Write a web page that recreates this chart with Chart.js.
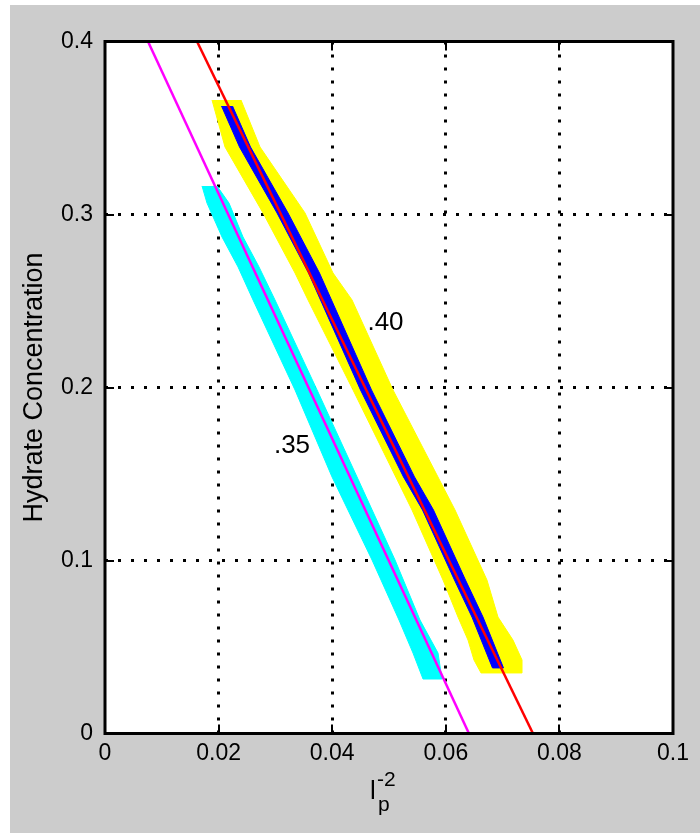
<!DOCTYPE html>
<html>
<head>
<meta charset="utf-8">
<script src="https://cdn.jsdelivr.net/npm/chart.js@4.4.1/dist/chart.umd.min.js"></script>
<style>
  body { margin: 0; background: #fff; }
  #wrap { position: absolute; left: 10px; top: 5px; width: 690px; height: 828px; background: #cccccc; }
</style>
</head>
<body>
<div id="wrap"><canvas id="chart" width="690" height="828"></canvas></div>
<script>
// axis ticks
const xTicks = ['0', '0.02', '0.04', '0.06', '0.08', '0.1'];
const yTicks = ['0', '0.1', '0.2', '0.3', '0.4'];

// fitted lines (x at y = 0.4 and at y = 0)
const lineY = [0.4, 0];
const redX = [0.0162, 0.07535];
const magentaX = [0.00757, 0.06408];

// .40 data: yellow envelope
const yellowY = [0.3662, 0.3390, 0.3009, 0.2662, 0.2506, 0.1986, 0.1292, 0.0887, 0.0673, 0.0540, 0.0425, 0.0350];
const yellowLo = [0.01884, 0.02113, 0.02782, 0.03345, 0.03574, 0.04366, 0.05405, 0.05951, 0.06215, 0.06391, 0.06496, 0.06620];
const yellowHi = [0.02394, 0.02729, 0.03521, 0.04014, 0.04349, 0.05070, 0.06162, 0.06725, 0.06919, 0.07183, 0.07342, 0.07342];

// .40 data: blue core
const blueY = [0.3627, 0.3390, 0.3009, 0.2662, 0.1986, 0.1483, 0.1292, 0.0887, 0.0673, 0.0379];
const blueLo = [0.02051, 0.02368, 0.03028, 0.03583, 0.04498, 0.05255, 0.05590, 0.06153, 0.06461, 0.06822];
const blueHi = [0.02245, 0.02562, 0.03222, 0.03776, 0.04692, 0.05449, 0.05783, 0.06347, 0.06655, 0.07016];

// .35 data: cyan band
const cyanY = [0.3165, 0.3066, 0.2870, 0.2697, 0.2506, 0.1986, 0.1483, 0.1003, 0.0656, 0.0465, 0.0315];
const cyanLo = [0.01708, 0.01796, 0.02060, 0.02342, 0.02606, 0.03345, 0.03997, 0.04701, 0.05176, 0.05423, 0.05599];
const cyanHi = [0.01972, 0.02183, 0.02430, 0.02711, 0.02993, 0.03733, 0.04437, 0.05106, 0.05546, 0.05863, 0.05933];

// curve labels
const curveLabels = ['.40', '.35'];
const curveLabelX = [0.04938, 0.03292];
const curveLabelY = [0.2373, 0.1662];

const fontFamily = '"Liberation Sans", Arial, Helvetica, sans-serif';
Chart.defaults.font.family = fontFamily;
Chart.defaults.color = '#000';

// closed outline: down the left edge, back up the right edge
function band(ys, lo, hi) {
    const pts = [];
    for (let i = 0; i < ys.length; i++) pts.push({x: lo[i], y: ys[i]});
    for (let i = ys.length - 1; i >= 0; i--) pts.push({x: hi[i], y: ys[i]});
    return pts;
}

function line(xs, ys) {
    return xs.map((v, i) => ({x: v, y: ys[i]}));
}

function bandSet(pts, color) {
    return {
        data: pts,
        fill: 'shape',
        backgroundColor: color,
        borderColor: color,
        borderWidth: 1,
        pointRadius: 0,
        tension: 0
    };
}

function lineSet(pts, color) {
    return {
        data: pts,
        fill: false,
        borderColor: color,
        borderWidth: 2.5,
        pointRadius: 0,
        tension: 0
    };
}

// white plot area
const plotBackground = {
    id: 'plotBackground',
    beforeDraw(chart) {
        const {ctx, chartArea: a} = chart;
        ctx.save();
        ctx.fillStyle = '#fff';
        ctx.fillRect(a.left, a.top, a.right - a.left, a.bottom - a.top);
        ctx.restore();
    }
};

// box, inward ticks, curve labels and the x axis label
const decorations = {
    id: 'decorations',
    afterDraw(chart) {
        const {ctx, chartArea: a, scales: {x, y}} = chart;
        ctx.save();
        ctx.strokeStyle = '#000';
        ctx.lineWidth = 2;
        ctx.beginPath();
        x.ticks.forEach(t => {
            const px = Math.round(x.getPixelForValue(t.value));
            ctx.moveTo(px, a.bottom); ctx.lineTo(px, a.bottom - 9);
            ctx.moveTo(px, a.top); ctx.lineTo(px, a.top + 9);
        });
        y.ticks.forEach(t => {
            const py = Math.round(y.getPixelForValue(t.value));
            ctx.moveTo(a.left, py); ctx.lineTo(a.left + 9, py);
            ctx.moveTo(a.right, py); ctx.lineTo(a.right - 9, py);
        });
        ctx.stroke();

        ctx.lineWidth = 3;
        ctx.strokeRect(a.left, a.top, a.right - a.left, a.bottom - a.top);

        ctx.fillStyle = '#000';
        ctx.font = '26px ' + fontFamily;
        ctx.textAlign = 'center';
        ctx.textBaseline = 'middle';
        curveLabels.forEach((txt, i) => {
            ctx.fillText(txt, x.getPixelForValue(curveLabelX[i]), y.getPixelForValue(curveLabelY[i]));
        });

        // l with superscript -2 and subscript p
        const cx = (a.left + a.right) / 2;
        ctx.textAlign = 'left';
        ctx.textBaseline = 'alphabetic';
        ctx.font = '26px ' + fontFamily;
        ctx.fillText('l', cx - 19, a.bottom + 65.5);
        ctx.font = '21px ' + fontFamily;
        ctx.fillText('-2', cx - 12, a.bottom + 52);
        ctx.fillText('p', cx - 11, a.bottom + 77.5);
        ctx.restore();
    }
};

function gridColor(ctx, max) {
    if (!ctx.tick) return '#000';
    const v = ctx.tick.value;
    return (v === 0 || Math.abs(v - max) < 1e-9) ? 'rgba(0,0,0,0)' : '#000';
}

new Chart(document.getElementById('chart'), {
    type: 'line',
    data: {
        datasets: [
            lineSet(line(redX, lineY), '#ff0000'),
            lineSet(line(magentaX, lineY), '#ff00ff'),
            bandSet(band(blueY, blueLo, blueHi), '#0000ff'),
            bandSet(band(cyanY, cyanLo, cyanHi), '#00ffff'),
            bandSet(band(yellowY, yellowLo, yellowHi), '#ffff00')
        ]
    },
    options: {
        responsive: false,
        animation: false,
        events: [],
        layout: { padding: { top: 36.5, right: 27, left: 0, bottom: 0 } },
        plugins: { legend: { display: false }, tooltip: { enabled: false } },
        scales: {
            x: {
                type: 'linear',
                min: 0,
                max: 0.1,
                afterFit: s => { s.height = 99.5; },
                ticks: {
                    stepSize: 0.02,
                    padding: 6,
                    font: { size: 23 },
                    callback: (v, i) => xTicks[i]
                },
                grid: { color: c => gridColor(c, 0.1), lineWidth: 3, drawTicks: false },
                border: { display: false, dash: [3, 10] }
            },
            y: {
                min: 0,
                max: 0.4,
                afterFit: s => { s.width = 95; },
                ticks: {
                    stepSize: 0.1,
                    padding: 12,
                    font: { size: 23 },
                    callback: (v, i) => yTicks[i]
                },
                grid: { color: c => gridColor(c, 0.4), lineWidth: 3, drawTicks: false },
                border: { display: false, dash: [3, 10] },
                title: {
                    display: true,
                    text: 'Hydrate Concentration',
                    font: { size: 27 },
                    padding: { top: 8, bottom: 0 }
                }
            }
        }
    },
    plugins: [plotBackground, decorations]
});
</script>
</body>
</html>
